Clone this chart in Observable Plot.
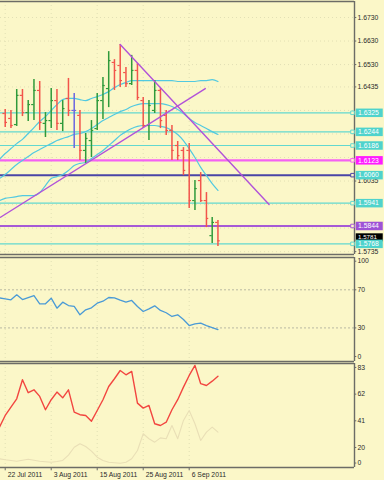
<!DOCTYPE html>
<html><head><meta charset="utf-8">
<script src="https://cdn.jsdelivr.net/npm/d3@7"></script>
<script src="https://cdn.jsdelivr.net/npm/@observablehq/plot@0.6"></script>
<style>
html,body{margin:0;padding:0;background:#fbf7c8;}
#chart{width:384px;height:480px;overflow:hidden;}
#chart svg{display:block;}
</style></head><body><div id="chart"></div>
<script>
// ---------- DATA ----------
const dateTickIndex = [0, 8, 16, 24, 32];
const dateTickLabels = ["22 Jul 2011", "3 Aug 2011", "15 Aug 2011", "25 Aug 2011", "6 Sep 2011"];

const barOpen  = [1.6322,1.6301,1.6275,1.6399,1.6326,1.6360,1.6420,1.6280,1.6292,1.6377,1.6280,1.6386,1.6335,1.6314,1.6165,1.6207,1.6258,1.6377,1.6428,1.6539,1.6526,1.6496,1.6449,1.6505,1.6377,1.6271,1.6335,1.6420,1.6314,1.6250,1.6186,1.6165,1.6165,1.5952,1.6037,1.5952,1.5803,1.5859];
const barHigh  = [1.6339,1.6335,1.6424,1.6424,1.6377,1.6466,1.6458,1.6326,1.6428,1.6424,1.6377,1.6471,1.6407,1.6335,1.6237,1.6292,1.6407,1.6475,1.6585,1.6551,1.6615,1.6517,1.6569,1.6535,1.6390,1.6377,1.6462,1.6428,1.6335,1.6271,1.6203,1.6177,1.6194,1.6037,1.6071,1.5986,1.5880,1.5867];
const barLow   = [1.6262,1.6258,1.6267,1.6309,1.6288,1.6292,1.6250,1.6220,1.6258,1.6250,1.6245,1.6309,1.6173,1.6122,1.6110,1.6135,1.6250,1.6296,1.6347,1.6420,1.6432,1.6432,1.6441,1.6377,1.6258,1.6207,1.6322,1.6258,1.6229,1.6122,1.6122,1.6058,1.5918,1.5910,1.5944,1.5837,1.5770,1.5757];
const barClose = [1.6284,1.6271,1.6399,1.6326,1.6360,1.6420,1.6284,1.6292,1.6377,1.6280,1.6343,1.6335,1.6335,1.6165,1.6216,1.6250,1.6377,1.6441,1.6547,1.6505,1.6462,1.6449,1.6505,1.6390,1.6271,1.6356,1.6420,1.6292,1.6250,1.6165,1.6143,1.6080,1.5952,1.6003,1.5952,1.5876,1.5859,1.5781];

// indicator series start one bar before the first visible bar (index -1 .. 37)
const seriesStart = -1;
const maUpper  = [1.6127,1.6152,1.6173,1.6194,1.6212,1.6237,1.6262,1.6288,1.6309,1.6335,1.6360,1.6381,1.6386,1.6386,1.6381,1.6377,1.6386,1.6394,1.6403,1.6415,1.6432,1.6445,1.6454,1.6462,1.6462,1.6462,1.6462,1.6462,1.6462,1.6462,1.6462,1.6458,1.6458,1.6458,1.6458,1.6462,1.6462,1.6466,1.6458];
const maMiddle = [1.6046,1.6063,1.6084,1.6105,1.6122,1.6139,1.6156,1.6169,1.6182,1.6194,1.6207,1.6216,1.6224,1.6233,1.6237,1.6245,1.6258,1.6275,1.6292,1.6305,1.6318,1.6330,1.6339,1.6352,1.6360,1.6364,1.6364,1.6364,1.6364,1.6360,1.6352,1.6339,1.6322,1.6301,1.6284,1.6271,1.6258,1.6245,1.6233];
const maLower  = [1.5952,1.5961,1.5965,1.5969,1.5973,1.5973,1.5973,1.5986,1.6016,1.6046,1.6054,1.6063,1.6080,1.6101,1.6110,1.6114,1.6131,1.6148,1.6165,1.6186,1.6207,1.6229,1.6245,1.6258,1.6267,1.6271,1.6271,1.6271,1.6267,1.6262,1.6250,1.6233,1.6207,1.6173,1.6135,1.6093,1.6058,1.6024,1.5995];

const rsiValues = [61.5,60.5,59.5,64.7,59.8,61.9,64.0,55.3,55.3,61.2,50.7,57.0,53.5,52.5,43.8,49.0,51.1,55.9,58.0,61.9,61.6,59.1,57.0,58.8,52.5,47.2,50.0,53.2,48.3,45.9,42.0,43.8,38.8,32.5,34.3,35.0,32.5,30.4,28.3];
const stochMain   = [36,45.2,51.7,58.3,73.3,63.1,65.4,60.2,49.7,57.6,63.6,59.1,65.4,47.8,45.8,45.2,40.7,49.1,57.6,68.0,74.1,80.6,77.2,79.9,54.9,51.0,53.1,38.7,37.3,39.9,49.7,57.6,67.5,76.7,84.6,70.2,68.8,72.2,76.1];
const stochSignal = [11.1,10.3,9.8,9.2,10.0,10.8,10.0,9.2,8.8,8.4,9.0,9.8,14.0,20.2,22.9,20.8,17.1,12.4,9.8,8.4,8.0,7.6,8.4,11.1,17.6,30.8,26.9,24.2,27.6,26.9,37.3,26.9,41.3,49.1,38.7,25.5,32.1,36.0,32.1];

const priceTicks = [1.6730,1.6630,1.6530,1.6435,1.6035,1.5735];
const priceGrid  = [1.6730,1.6630,1.6530,1.6435,1.6335,1.6235,1.6135,1.6035,1.5935,1.5835,1.5735];
const levelPrices = [1.6325,1.6244,1.6186,1.6123,1.6060,1.5941,1.5844,1.5768];
const levelKinds  = ["aqua","aqua","aqua","magenta","navy","aqua","violet","aqua"];
const currentPrice = 1.5781;

const trendUpIndex = [-0.82, 34.8],  trendUpPrice = [1.5881, 1.6428];
const trendDownIndex = [20, 45.9],   trendDownPrice = [1.6615, 1.5935];

const rsiTicks = [100, 70, 30, 0];
const rsiLevels = [70, 30];
const stochTicks = [83, 62, 41, 20, 0];

// ---------- STYLE / LAYOUT ----------
const BG = "#fbf7c8", FRAME = "#6c6c66", FONT = "'Liberation Sans', Arial, sans-serif";
const UP = "#2f9a3b", DOWN = "#f2544b", DOJI = "#6b66e0";
const MA = "#52c9e0", TREND = "#b252d9";
const lineStyle = {
  aqua:    {line: "#62d8cf", box: "#4fd3cc", w: 1.2},
  magenta: {line: "#f462f2", box: "#ff1cff", w: 2.4},
  navy:    {line: "#4a45a6", box: "#4fd3cc", w: 2},
  violet:  {line: "#a65ad6", box: "#9e52d6", w: 2}
};
const xDomain = [-0.82, 60.75];
const W = 384, MR = 30, FS = 6.8;
const mainDomain = [1.57228, 1.67980];
const rsiDomain = [-5.25, 103.9];
const stochDomain = [4.26, 86.1];

const bars = barOpen.map((o, i) => ({i, o, h: barHigh[i], l: barLow[i], c: barClose[i],
  col: barClose[i] > o ? UP : barClose[i] < o ? DOWN : DOJI}));
const series = arr => arr.map((v, k) => ({x: k + seriesStart, y: v}));
const levels = levelPrices.map((p, k) => ({p, s: lineStyle[levelKinds[k]]}));
const xEnd = () => xDomain[1];

function frame(yd) {
  return [
    Plot.ruleY([yd[1]], {stroke: FRAME, strokeWidth: 1.6}),
    Plot.ruleY([yd[0]], {stroke: FRAME, strokeWidth: 1.6}),
    Plot.ruleX([xDomain[1]], {stroke: FRAME, strokeWidth: 1.4})
  ];
}
function vgrid() {
  return Plot.ruleX(dateTickIndex, {stroke: "#dcd9b0", strokeDasharray: "1,3", strokeWidth: 0.8});
}
function rightLabels(ticks, fmt, yfn) {
  return [
    Plot.ruleY(ticks, {y: yfn, x1: xEnd, x2: () => xDomain[1] + 0.4, stroke: FRAME}),
    Plot.text(ticks, {x: xEnd, y: yfn, text: fmt, dx: 3, textAnchor: "start", fontSize: FS, fill: "#2a2a2a"})
  ];
}
function plot(h, mt, mb, yd, marks) {
  return Plot.plot({
    width: W, height: h, marginLeft: 0, marginRight: MR, marginTop: mt, marginBottom: mb,
    x: {domain: xDomain, axis: null},
    y: {domain: yd, axis: null},
    color: {type: "identity"},
    style: {background: BG, fontFamily: FONT, overflow: "visible"},
    marks
  });
}

// ---------- MAIN PANEL ----------
const main = plot(256, 1, 2, mainDomain, [
  vgrid(),
  Plot.ruleY(priceGrid, {stroke: "#dcd9b0", strokeDasharray: "1,3", strokeWidth: 0.8}),
  Plot.ruleY(levels, {y: "p", stroke: d => d.s.line, strokeWidth: d => d.s.w}),
  Plot.line(series(maUpper), {x: "x", y: "y", stroke: MA, strokeWidth: 1.2, curve: "monotone-x"}),
  Plot.line(series(maMiddle), {x: "x", y: "y", stroke: MA, strokeWidth: 1.2, curve: "monotone-x"}),
  Plot.line(series(maLower), {x: "x", y: "y", stroke: MA, strokeWidth: 1.2, curve: "monotone-x"}),
  Plot.ruleX(bars, {x: "i", y1: "l", y2: "h", stroke: "col", strokeWidth: 1.5}),
  Plot.ruleY(bars, {y: "o", x1: d => d.i - 0.4, x2: "i", stroke: "col", strokeWidth: 1.2}),
  Plot.ruleY(bars, {y: "c", x1: "i", x2: d => d.i + 0.4, stroke: "col", strokeWidth: 1.2}),
  Plot.line(trendUpIndex.map((x, k) => ({x, y: trendUpPrice[k]})), {x: "x", y: "y", stroke: TREND, strokeWidth: 1.4}),
  Plot.line(trendDownIndex.map((x, k) => ({x, y: trendDownPrice[k]})), {x: "x", y: "y", stroke: TREND, strokeWidth: 1.4}),
  ...frame(mainDomain),
  ...rightLabels(priceTicks, d => d.toFixed(4), d => d),
  Plot.ruleY([currentPrice], {x1: () => xDomain[1] + 0.3, x2: () => xDomain[1] + 5.0, dy: -3.5, stroke: "#000", strokeWidth: 8}),
  Plot.text([currentPrice], {x: xEnd, y: d => d, text: d => d.toFixed(4), dx: 3.5, dy: -4, textAnchor: "start", fontSize: 6.2, fill: "white"}),
  Plot.ruleY(levels, {y: "p", x1: () => xDomain[1] + 0.3, x2: () => xDomain[1] + 5.0, stroke: d => d.s.box, strokeWidth: 8.5}),
  Plot.text(levels, {x: xEnd, y: "p", text: d => d.p.toFixed(4), dx: 3.5, textAnchor: "start", fontSize: FS, fill: "white"}),
  Plot.dot(levels, {x: xEnd, y: "p", dx: -2, symbol: "square", r: 2, stroke: d => d.s.line, fill: BG, strokeWidth: 1})
]);

// ---------- RSI PANEL ----------
const rsi = plot(106, 1, 1, rsiDomain, [
  vgrid(),
  Plot.ruleY(rsiLevels, {stroke: "#b9b9a2", strokeDasharray: "2,2", strokeWidth: 1}),
  Plot.line(series(rsiValues), {x: "x", y: "y", stroke: "#4a9ad6", strokeWidth: 1.3}),
  ...frame(rsiDomain),
  ...rightLabels(rsiTicks, d => String(d), d => d)
]);

// ---------- STOCHASTIC PANEL ----------
const stoch = plot(118, 1, 13, stochDomain, [
  vgrid(),
  Plot.line(series(stochSignal), {x: "x", y: "y", stroke: "#e9dfb6", strokeWidth: 1.1}),
  Plot.line(series(stochMain), {x: "x", y: "y", stroke: "#f24640", strokeWidth: 1.4}),
  ...frame(stochDomain),
  ...rightLabels(stochTicks, d => String(d), d => Math.max(d, stochDomain[0] + 3.5)),
  Plot.ruleX(dateTickIndex, {x: d => d, y1: () => stochDomain[0], y2: () => stochDomain[0] - 2.6, stroke: FRAME}),
  Plot.text(dateTickIndex, {x: d => d, y: () => stochDomain[0], text: (d, k) => dateTickLabels[k], dx: 2.5, dy: 7.5, textAnchor: "start", fontSize: FS, fill: "#2a2a2a"})
]);

const root = document.getElementById("chart");
root.append(main, rsi, stoch);
</script>
</body></html>
